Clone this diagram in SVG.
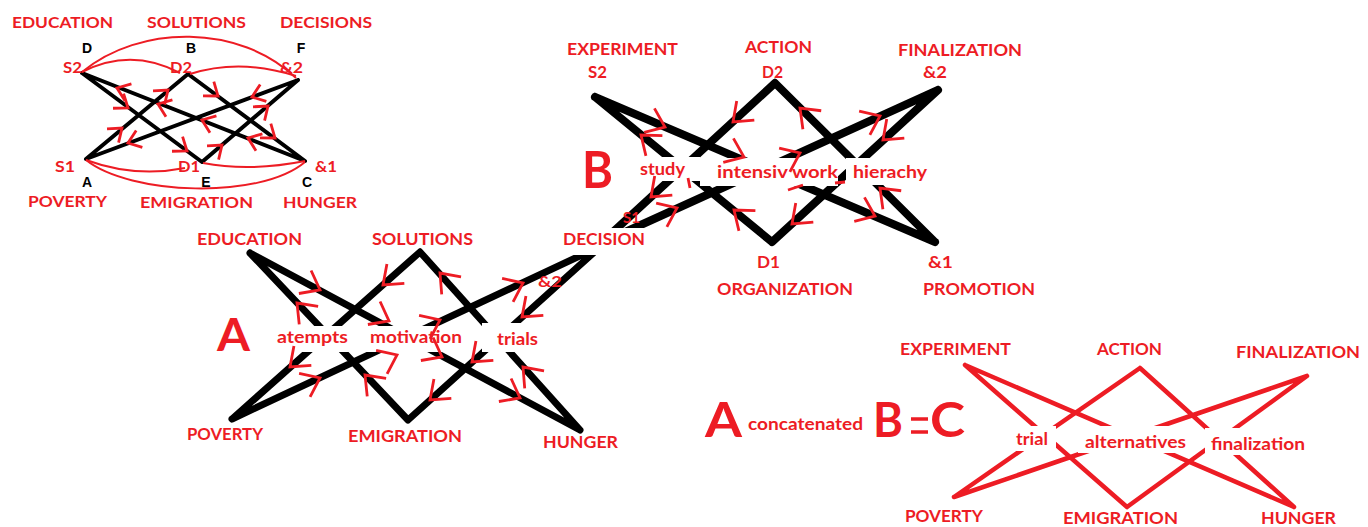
<svg xmlns="http://www.w3.org/2000/svg" width="1368" height="527" viewBox="0 0 1368 527">
<defs>
<style>
.t{font-family:Lato,"Liberation Sans",sans-serif;font-weight:bold;fill:#ed1c24}
.k{font-family:"Liberation Sans",Arial,sans-serif;font-weight:bold;fill:#000;font-size:14px;text-anchor:middle}
.s16{font-size:16px}
.s17{font-size:17px}
.bk4{stroke:#000;stroke-width:4;stroke-linecap:round;fill:none}
.bk7{stroke:#000;stroke-width:7;stroke-linecap:round;fill:none}
.bk8{stroke:#000;stroke-width:8;stroke-linecap:round;fill:none}
.rd{stroke:#ed1c24;stroke-width:4.5;stroke-linecap:round;fill:none}
.cv{stroke:#ed1c24;stroke-width:2;fill:none}
.ch{fill:none;stroke:#ed1c24;stroke-width:2.8}
.box{fill:#fff}
</style>
<path id="chS" d="M-12,-9 L0,0 L-12,9"/>
<path id="chL" d="M-17,-13 L0,0 L-17,13"/>
</defs>
<rect width="1368" height="527" fill="#fff"/>

<!-- small key graph (top left) -->
<g id="key-connectors">
  <path class="bk4" d="M82,73 L202,162 M82,73 L305,161 M188,74 L86,159 M188,74 L305,161 M298,80 L86,159 M298,80 L202,162"/>
  <path class="cv" d="M82,72 C140,24 240,24 296,78"/>
  <path class="cv" d="M82,72 Q131,47 180,73"/>
  <path class="cv" d="M190,74 Q240,58 296,76"/>
  <path class="cv" d="M86,160 Q135,178 185,168"/>
  <path class="cv" d="M203,163 Q250,172 305,161"/>
  <path class="cv" d="M86,160 C130,195 260,200 305,162"/>
  <use class="ch" href="#chS" transform="translate(117,88) rotate(201)"/>
  <use class="ch" href="#chS" transform="translate(128,108) rotate(36)"/>
  <use class="ch" href="#chS" transform="translate(168,90) rotate(-40)"/>
  <use class="ch" href="#chS" transform="translate(158,104) rotate(201)"/>
  <use class="ch" href="#chS" transform="translate(122,128) rotate(-40)"/>
  <use class="ch" href="#chS" transform="translate(128,143) rotate(160)"/>
  <use class="ch" href="#chS" transform="translate(187,151) rotate(36)"/>
  <use class="ch" href="#chS" transform="translate(218,96) rotate(37)"/>
  <use class="ch" href="#chS" transform="translate(252,97) rotate(160)"/>
  <use class="ch" href="#chS" transform="translate(268,106) rotate(-40)"/>
  <use class="ch" href="#chS" transform="translate(202,120) rotate(201)"/>
  <use class="ch" href="#chS" transform="translate(275,138) rotate(37)"/>
  <use class="ch" href="#chS" transform="translate(248,138) rotate(201)"/>
  <use class="ch" href="#chS" transform="translate(222,145) rotate(-40)"/>
</g>
<g id="key-d">
  <text class="t s16" x="12" y="28" textLength="101" lengthAdjust="spacingAndGlyphs">EDUCATION</text>
  <text class="k" x="87" y="53">D</text>
  <text class="t s16" x="63" y="73" textLength="19" lengthAdjust="spacingAndGlyphs">S2</text>
</g>
<g id="key-b">
  <text class="t s16" x="147" y="28" textLength="99" lengthAdjust="spacingAndGlyphs">SOLUTIONS</text>
  <text class="k" x="191" y="53">B</text>
  <text class="t s16" x="170" y="73" textLength="22" lengthAdjust="spacingAndGlyphs">D2</text>
</g>
<g id="key-f">
  <text class="t s16" x="280" y="28" textLength="92" lengthAdjust="spacingAndGlyphs">DECISIONS</text>
  <text class="k" x="301" y="53">F</text>
  <text class="t s16" x="280" y="73" textLength="23" lengthAdjust="spacingAndGlyphs">&amp;2</text>
</g>
<g id="key-a">
  <text class="t s16" x="55" y="172" textLength="20" lengthAdjust="spacingAndGlyphs">S1</text>
  <text class="k" x="87" y="187">A</text>
  <text class="t s16" x="28" y="207" textLength="79" lengthAdjust="spacingAndGlyphs">POVERTY</text>
</g>
<g id="key-e">
  <text class="t s16" x="178" y="172" textLength="22" lengthAdjust="spacingAndGlyphs">D1</text>
  <text class="k" x="206" y="187">E</text>
  <text class="t s16" x="140" y="208" textLength="113" lengthAdjust="spacingAndGlyphs">EMIGRATION</text>
</g>
<g id="key-c">
  <text class="t s16" x="315" y="172" textLength="22" lengthAdjust="spacingAndGlyphs">&amp;1</text>
  <text class="k" x="307" y="187">C</text>
  <text class="t s16" x="283" y="208" textLength="74" lengthAdjust="spacingAndGlyphs">HUNGER</text>
</g>

<!-- graph A -->
<g id="a-connectors">
  <path class="bk7" d="M250,253 L408,420 M250,253 L580,430 M420,252 L232,419 M420,252 L580,430 M601,246 L232,419 M601,246 L408,420"/>
</g>
<!-- graph B -->
<g id="b-connectors">
  <path class="bk8" d="M595,97 L772,242 M595,97 L935,242 M775,83 L601,243 M775,83 L935,242 M938,90 L601,243 M938,90 L772,242"/>
</g>

<!-- label panels over the crossings -->
<rect class="box" x="273" y="326" width="77" height="26"/>
<rect class="box" x="365" y="326" width="105" height="26"/>
<rect class="box" x="482" y="323" width="58" height="29"/>
<rect class="box" x="545" y="228" width="107" height="27"/>
<rect class="box" x="637" y="157" width="63" height="24"/>
<rect class="box" x="700" y="158" width="138" height="28"/>
<rect class="box" x="846" y="158" width="86" height="27"/>

<g id="a-arrows">
  <use class="ch" href="#chL" transform="translate(320,290) rotate(28)"/>
  <use class="ch" href="#chL" transform="translate(297,303) rotate(226.6)"/>
  <use class="ch" href="#chL" transform="translate(383,285) rotate(138)"/>
  <use class="ch" href="#chL" transform="translate(389,321) rotate(28)"/>
  <use class="ch" href="#chL" transform="translate(290,367) rotate(138)"/>
  <use class="ch" href="#chL" transform="translate(320,378) rotate(-25)"/>
  <use class="ch" href="#chL" transform="translate(365,375) rotate(226.6)"/>
  <use class="ch" href="#chL" transform="translate(397,355) rotate(-25)"/>
  <use class="ch" href="#chL" transform="translate(440,273) rotate(228)"/>
  <use class="ch" href="#chL" transform="translate(523,283) rotate(-25)"/>
  <use class="ch" href="#chL" transform="translate(522,317) rotate(138)"/>
  <use class="ch" href="#chL" transform="translate(440,320) rotate(-25)"/>
  <use class="ch" href="#chL" transform="translate(442,357) rotate(28)"/>
  <use class="ch" href="#chL" transform="translate(472,362) rotate(138)"/>
  <use class="ch" href="#chL" transform="translate(430,400) rotate(138)"/>
  <use class="ch" href="#chL" transform="translate(520,398) rotate(28)"/>
  <use class="ch" href="#chL" transform="translate(523,367) rotate(228)"/>
</g>
<g id="b-arrows">
  <use class="ch" href="#chL" transform="translate(665,127) rotate(23)"/>
  <use class="ch" href="#chL" transform="translate(641,135) rotate(219.3)"/>
  <use class="ch" href="#chL" transform="translate(733,122) rotate(137.4)"/>
  <use class="ch" href="#chL" transform="translate(744,157) rotate(23)"/>
  <use class="ch" href="#chL" transform="translate(651,197) rotate(137.4)"/>
  <use class="ch" href="#chL" transform="translate(677,208) rotate(-24.4)"/>
  <use class="ch" href="#chL" transform="translate(734,210) rotate(219.3)"/>
  <use class="ch" href="#chL" transform="translate(800,108) rotate(224.8)"/>
  <use class="ch" href="#chL" transform="translate(880,116) rotate(-24.4)"/>
  <use class="ch" href="#chL" transform="translate(883,140) rotate(137.5)"/>
  <use class="ch" href="#chL" transform="translate(800,153) rotate(-24.4)"/>
  <use class="ch" href="#chL" transform="translate(792,224) rotate(137.5)"/>
  <use class="ch" href="#chL" transform="translate(875,216) rotate(23.1)"/>
  <use class="ch" href="#chL" transform="translate(880,188) rotate(224.8)"/>
  <path class="ch" d="M688,178 L690,188 M788,190 L803,185 M835,183 L845,182"/>
</g>

<g id="a-education"><text class="t s17" x="197" y="245" textLength="105" lengthAdjust="spacingAndGlyphs">EDUCATION</text></g>
<g id="a-solutions"><text class="t s17" x="372" y="245" textLength="101" lengthAdjust="spacingAndGlyphs">SOLUTIONS</text></g>
<g id="a-decision">
  <text class="t s17" x="563" y="245" textLength="82" lengthAdjust="spacingAndGlyphs">DECISION</text>
  <text class="t s16" x="538" y="287" textLength="24" lengthAdjust="spacingAndGlyphs">&amp;2</text>
</g>
<g id="a-poverty"><text class="t s17" x="187" y="440" textLength="76" lengthAdjust="spacingAndGlyphs">POVERTY</text></g>
<g id="a-emigration"><text class="t s17" x="348" y="442" textLength="114" lengthAdjust="spacingAndGlyphs">EMIGRATION</text></g>
<g id="a-hunger"><text class="t s17" x="543" y="448" textLength="75" lengthAdjust="spacingAndGlyphs">HUNGER</text></g>
<g id="a-labels">
  <text class="t" x="217" y="351" font-size="46" textLength="33" lengthAdjust="spacingAndGlyphs">A</text>
  <text class="t s17" x="277" y="343" textLength="71" lengthAdjust="spacingAndGlyphs">atempts</text>
  <text class="t s17" x="370" y="343" textLength="92" lengthAdjust="spacingAndGlyphs">motivation</text>
  <text class="t s17" x="497" y="345" textLength="41" lengthAdjust="spacingAndGlyphs">trials</text>
</g>

<g id="b-experiment">
  <text class="t s17" x="567" y="55" textLength="111" lengthAdjust="spacingAndGlyphs">EXPERIMENT</text>
  <text class="t s17" x="588" y="78" textLength="19" lengthAdjust="spacingAndGlyphs">S2</text>
</g>
<g id="b-action">
  <text class="t s17" x="745" y="53" textLength="67" lengthAdjust="spacingAndGlyphs">ACTION</text>
  <text class="t s17" x="762" y="78" textLength="21" lengthAdjust="spacingAndGlyphs">D2</text>
</g>
<g id="b-finalization">
  <text class="t s17" x="898" y="56" textLength="124" lengthAdjust="spacingAndGlyphs">FINALIZATION</text>
  <text class="t s17" x="923" y="78" textLength="24" lengthAdjust="spacingAndGlyphs">&amp;2</text>
</g>
<g id="b-s1"><text class="t s16" x="623" y="223" textLength="17" lengthAdjust="spacingAndGlyphs">S1</text></g>
<g id="b-organization">
  <text class="t s17" x="757" y="268" textLength="23" lengthAdjust="spacingAndGlyphs">D1</text>
  <text class="t s17" x="717" y="295" textLength="136" lengthAdjust="spacingAndGlyphs">ORGANIZATION</text>
</g>
<g id="b-promotion">
  <text class="t s17" x="928" y="268" textLength="25" lengthAdjust="spacingAndGlyphs">&amp;1</text>
  <text class="t s17" x="923" y="295" textLength="112" lengthAdjust="spacingAndGlyphs">PROMOTION</text>
</g>
<g id="b-labels">
  <text class="t" x="582" y="188" font-size="52" textLength="31" lengthAdjust="spacingAndGlyphs">B</text>
  <text class="t s17" x="640" y="175" textLength="45" lengthAdjust="spacingAndGlyphs">study</text>
  <text class="t s17" x="717" y="178" textLength="121" lengthAdjust="spacingAndGlyphs">intensiv work</text>
  <text class="t s17" x="853" y="178" textLength="74" lengthAdjust="spacingAndGlyphs">hierachy</text>
</g>

<!-- graph C -->
<g id="c-connectors">
  <path class="rd" d="M965,365 L1127,507 M965,365 L1294,507 M1140,368 L954,497 M1140,368 L1294,507 M1307,376 L954,497 M1307,376 L1127,507"/>
</g>
<rect class="box" x="1010" y="426" width="46" height="25"/>
<rect class="box" x="1078" y="426" width="114" height="27"/>
<rect class="box" x="1205" y="428" width="105" height="27"/>
<g id="c-experiment"><text class="t s17" x="900" y="355" textLength="111" lengthAdjust="spacingAndGlyphs">EXPERIMENT</text></g>
<g id="c-action"><text class="t s17" x="1097" y="355" textLength="65" lengthAdjust="spacingAndGlyphs">ACTION</text></g>
<g id="c-finalization"><text class="t s17" x="1236" y="358" textLength="124" lengthAdjust="spacingAndGlyphs">FINALIZATION</text></g>
<g id="c-poverty"><text class="t s17" x="905" y="522" textLength="78" lengthAdjust="spacingAndGlyphs">POVERTY</text></g>
<g id="c-emigration"><text class="t s17" x="1063" y="524" textLength="115" lengthAdjust="spacingAndGlyphs">EMIGRATION</text></g>
<g id="c-hunger"><text class="t s17" x="1261" y="524" textLength="75" lengthAdjust="spacingAndGlyphs">HUNGER</text></g>
<g id="c-labels">
  <text class="t s17" x="1016" y="445" textLength="32" lengthAdjust="spacingAndGlyphs">trial</text>
  <text class="t s17" x="1085" y="448" textLength="101" lengthAdjust="spacingAndGlyphs">alternatives</text>
  <text class="t s17" x="1211" y="450" textLength="94" lengthAdjust="spacingAndGlyphs">finalization</text>
</g>

<!-- formula line -->
<g id="formula">
  <text class="t" x="705" y="437" font-size="47" textLength="37" lengthAdjust="spacingAndGlyphs">A</text>
  <text class="t s17" x="748" y="430" textLength="115" lengthAdjust="spacingAndGlyphs">concatenated</text>
  <text class="t" x="873" y="437" font-size="47" textLength="30" lengthAdjust="spacingAndGlyphs">B</text>
  <path d="M911,419 H928 M911,432 H928" stroke="#ed1c24" stroke-width="3.5"/>
  <text class="t" x="930" y="437" font-size="47" textLength="35" lengthAdjust="spacingAndGlyphs">C</text>
</g>
</svg>
